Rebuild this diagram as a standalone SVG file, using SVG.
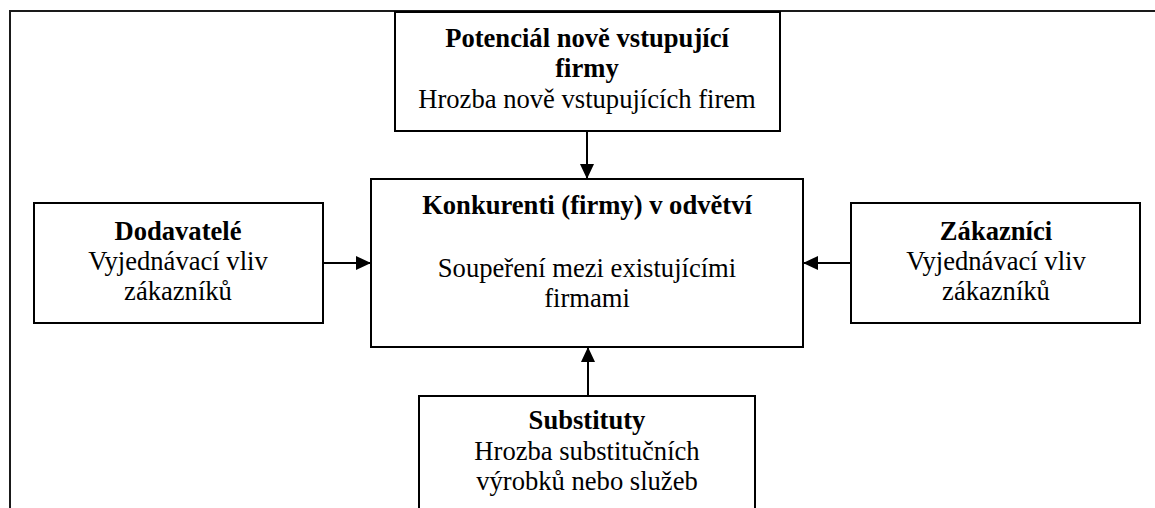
<svg xmlns="http://www.w3.org/2000/svg" width="1155" height="508" viewBox="0 0 1155 508">
<style>
.box{fill:#fff;stroke:#000;stroke-width:2}
.frame{fill:none;stroke:#1a1a1a;stroke-width:2}
.conn{stroke:#000;stroke-width:2;fill:none}
text{font-family:"Liberation Serif","Times New Roman",serif;font-size:26.6px;fill:#000;text-anchor:middle}
.b{font-weight:bold}
</style>
<defs>
<marker id="ah" markerUnits="userSpaceOnUse" markerWidth="15" markerHeight="14" refX="15" refY="7" orient="auto">
<path d="M0,0 L15,7 L0,14 z" fill="#000"/>
</marker>
</defs>
<rect width="1155" height="508" fill="#fff"/>
<path class="frame" d="M10,508 L10,11 L1155,11"/>
<g id="connectors">
<line class="conn" x1="587" y1="131" x2="587" y2="179" marker-end="url(#ah)"/>
<line class="conn" x1="588" y1="396" x2="588" y2="347" marker-end="url(#ah)"/>
<line class="conn" x1="323" y1="263" x2="371" y2="263" marker-end="url(#ah)"/>
<line class="conn" x1="851" y1="263" x2="803" y2="263" marker-end="url(#ah)"/>
</g>
<g id="potencial">
<rect class="box" x="395" y="12" width="385" height="119"/>
<text class="b" x="587" y="47">Potenciál nově vstupující</text>
<text class="b" x="587" y="77">firmy</text>
<text x="587" y="108">Hrozba nově vstupujících firem</text>
</g>
<g id="konkurenti">
<rect class="box" x="371" y="179" width="432" height="168"/>
<text class="b" x="587" y="214">Konkurenti (firmy) v odvětví</text>
<text x="587" y="277">Soupeření mezi existujícími</text>
<text x="587" y="307">firmami</text>
</g>
<g id="dodavatele">
<rect class="box" x="34" y="203" width="289" height="120"/>
<text class="b" x="178" y="240">Dodavatelé</text>
<text x="178" y="270">Vyjednávací vliv</text>
<text x="178" y="300">zákazníků</text>
</g>
<g id="zakaznici">
<rect class="box" x="851" y="203" width="289" height="120"/>
<text class="b" x="996" y="240">Zákazníci</text>
<text x="996" y="270">Vyjednávací vliv</text>
<text x="996" y="300">zákazníků</text>
</g>
<g id="substituty">
<rect class="box" x="419" y="396" width="336" height="120"/>
<text class="b" x="587" y="429">Substituty</text>
<text x="587" y="460">Hrozba substitučních</text>
<text x="587" y="490">výrobků nebo služeb</text>
</g>
</svg>
